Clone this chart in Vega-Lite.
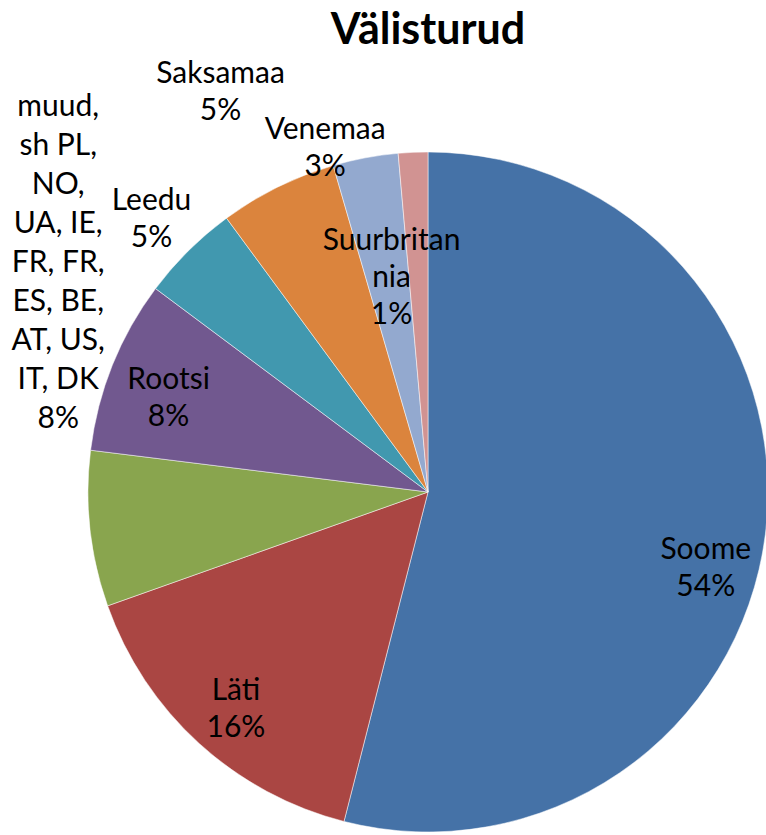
{
  "$schema": "https://vega.github.io/schema/vega-lite/v6.json",
  "width": 856,
  "height": 860,
  "autosize": {"type": "none"},
  "padding": {"left": 0, "top": 62, "right": 0, "bottom": 0},
  "background": "white",
  "title": {
    "text": "Välisturud",
    "font": "Lato",
    "fontSize": 43,
    "fontWeight": "bold",
    "color": "black",
    "anchor": "middle",
    "frame": "group",
    "baseline": "alphabetic",
    "offset": 0,
    "dy": 405
  },
  "config": {"view": {"stroke": null}},
  "data": {
    "values": [
      {"name": "Soome", "value": 54.0, "order": 1, "label": "Soome\n54%"},
      {"name": "Läti", "value": 15.6, "order": 2, "label": "Läti\n16%"},
      {"name": "muud", "value": 7.4, "order": 3, "label": "muud,\nsh PL,\nNO,\nUA, IE,\nFR, FR,\nES, BE,\nAT, US,\nIT, DK\n8%"},
      {"name": "Rootsi", "value": 8.25, "order": 4, "label": "Rootsi\n8%"},
      {"name": "Leedu", "value": 4.7, "order": 5, "label": "Leedu\n5%"},
      {"name": "Saksamaa", "value": 5.6, "order": 6, "label": "Saksamaa\n5%"},
      {"name": "Venemaa", "value": 3.1, "order": 7, "label": "Venemaa\n3%"},
      {"name": "Suurbritannia", "value": 1.4, "order": 8, "label": "Suurbritan\nnia\n1%"}
    ]
  },
  "encoding": {
    "theta": {"field": "value", "type": "quantitative", "stack": true},
    "order": {"field": "order", "type": "quantitative"}
  },
  "layer": [
    {
      "mark": {"type": "arc", "outerRadius": 340, "stroke": "white", "strokeWidth": 0.5},
      "encoding": {
        "color": {
          "field": "name",
          "type": "nominal",
          "scale": {
            "domain": ["Soome", "Läti", "muud", "Rootsi", "Leedu", "Saksamaa", "Venemaa", "Suurbritannia"],
            "range": ["#4572A7", "#AA4643", "#89A54E", "#71588F", "#4198AF", "#DB843D", "#93A9CF", "#D19392"]
          },
          "legend": null
        }
      }
    },
    {
      "mark": {"type": "text", "radius": 285, "dx": -5, "dy": 23, "font": "Lato", "fontSize": 30, "lineHeight": 37, "lineBreak": "\n", "align": "center", "baseline": "middle", "color": "black"},
      "encoding": {"text": {"condition": {"test": "datum.name === 'Soome'", "field": "label"}, "value": ""}}
    },
    {
      "mark": {"type": "text", "radius": 285, "dy": -12, "font": "Lato", "fontSize": 30, "lineHeight": 37, "lineBreak": "\n", "align": "center", "baseline": "middle", "color": "black"},
      "encoding": {"text": {"condition": {"test": "datum.name === 'Läti'", "field": "label"}, "value": ""}}
    },
    {
      "mark": {"type": "text", "radius": 285, "dx": 5, "dy": -6, "font": "Lato", "fontSize": 30, "lineHeight": 37, "lineBreak": "\n", "align": "center", "baseline": "middle", "color": "black"},
      "encoding": {"text": {"condition": {"test": "datum.name === 'Rootsi'", "field": "label"}, "value": ""}}
    },
    {
      "mark": {"type": "text", "radius": 215, "dx": -27, "dy": -36, "font": "Lato", "fontSize": 30, "lineHeight": 37, "lineBreak": "\n", "align": "center", "baseline": "middle", "color": "black"},
      "encoding": {"text": {"condition": {"test": "datum.name === 'Suurbritannia'", "field": "label"}, "value": ""}}
    },
    {
      "mark": {"type": "text", "radius": 352, "dx": -38, "dy": -16, "font": "Lato", "fontSize": 30, "lineHeight": 37, "lineBreak": "\n", "align": "center", "baseline": "middle", "color": "black"},
      "encoding": {"text": {"condition": {"test": "datum.name === 'Venemaa'", "field": "label"}, "value": ""}}
    },
    {
      "mark": {"type": "text", "radius": 453, "dx": -7, "dy": -12, "font": "Lato", "fontSize": 30, "lineHeight": 37, "lineBreak": "\n", "align": "center", "baseline": "middle", "color": "black"},
      "encoding": {"text": {"condition": {"test": "datum.name === 'Saksamaa'", "field": "label"}, "value": ""}}
    },
    {
      "mark": {"type": "text", "radius": 391, "dx": -1, "dy": -14, "font": "Lato", "fontSize": 30, "lineHeight": 37, "lineBreak": "\n", "align": "center", "baseline": "middle", "color": "black"},
      "encoding": {"text": {"condition": {"test": "datum.name === 'Leedu'", "field": "label"}, "value": ""}}
    },
    {
      "mark": {"type": "text", "radius": 370, "dx": -2, "dy": -425, "font": "Lato", "fontSize": 30, "lineHeight": 39, "lineBreak": "\n", "align": "center", "baseline": "middle", "color": "black"},
      "encoding": {"text": {"condition": {"test": "datum.name === 'muud'", "field": "label"}, "value": ""}}
    }
  ]
}
